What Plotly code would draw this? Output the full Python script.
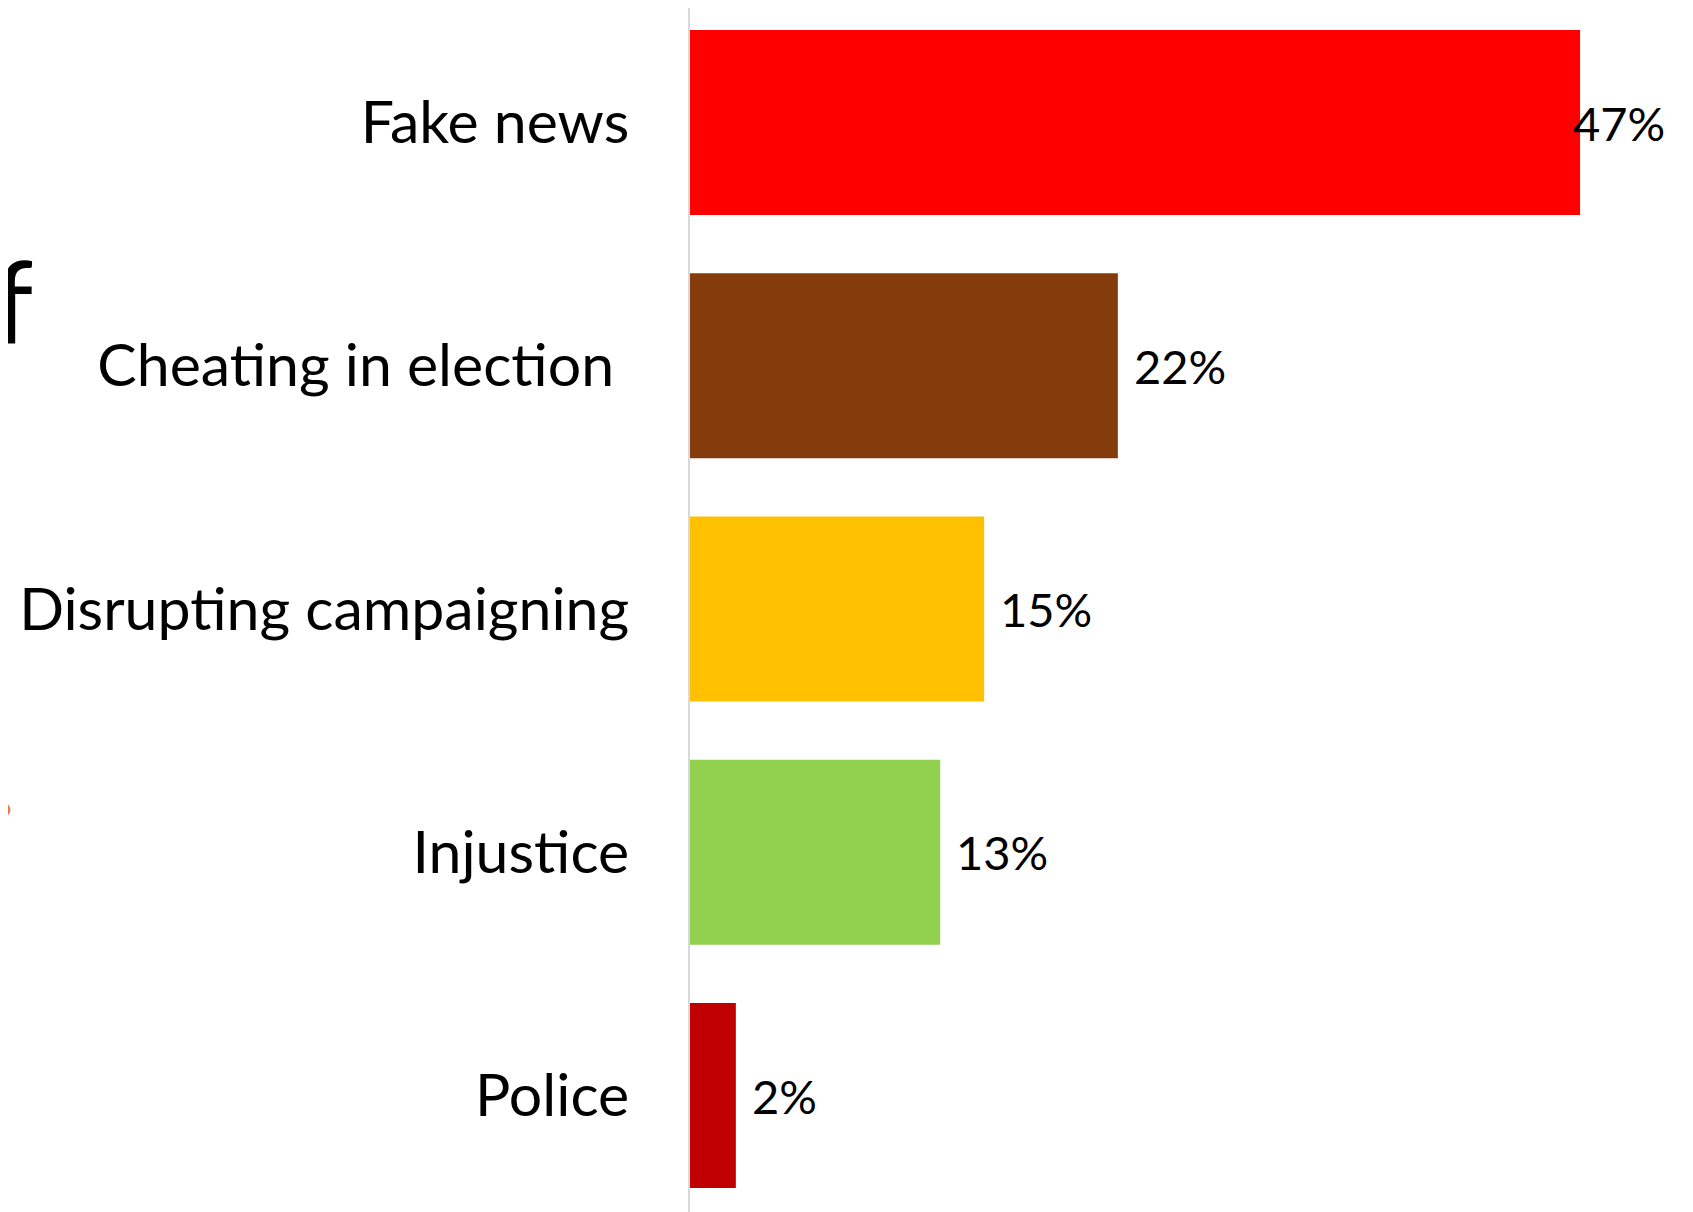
import plotly.graph_objects as go

categories = ["Fake news", "Cheating in election\u00a0", "Disrupting campaigning", "Injustice", "Police"]
values = [46.6, 22.4, 15.4, 13.1, 2.4]
labels = ["47%", "22%", "15%", "13%", "2%"]
colors = ["#FF0000", "#843C0C", "#FFC000", "#92D050", "#C00000"]
label_shift = [-9, 14, 14, 14, 14]

OFF = 8                      # page body margin
W, H = 1693 - OFF, 1212 - OFF
ML = 690 - OFF               # plot left edge in figure px
PW = W - ML
PITCH = 243.25               # px per category
TOP_CENTER = 122.5 - OFF     # centre of first bar in figure px
FONT = "Lato"

y_top = -TOP_CENTER / PITCH
y_bot = y_top + H / PITCH

fig = go.Figure()
fig.add_trace(go.Bar(
    y=categories, x=values, orientation="h",
    marker=dict(color=colors, line=dict(width=0)),
    hoverinfo="skip",
))

for c, v, t, s in zip(categories, values, labels, label_shift):
    fig.add_annotation(x=v, y=c, xref="x", yref="y", text=t, showarrow=False,
                       xanchor="left", yanchor="middle", xshift=s,
                       font=dict(family=FONT, size=47, color="#000000"))

def px_x(p):
    return (p - ML) / PW

def px_y(p):
    return 1 - p / H

# clipped fragments at the left edge (parts of neighbouring content)
fig.add_annotation(xref="paper", yref="paper", x=px_x(-17), y=px_y(362), text="f",
                   showarrow=False, xanchor="left", yanchor="bottom",
                   font=dict(family=FONT, size=115, color="#000000"))
fig.add_annotation(xref="paper", yref="paper", x=px_x(-6), y=px_y(799.5), text="\u25cf",
                   showarrow=False, xanchor="center", yanchor="middle",
                   font=dict(family="DejaVu Sans", size=20, color="#ED7D31"))

fig.update_layout(
    template="none",
    width=W, height=H,
    margin=dict(l=ML, r=0, t=0, b=0, pad=0, autoexpand=False),
    paper_bgcolor="white", plot_bgcolor="white",
    bargap=0.2395,
    showlegend=False,
    xaxis=dict(range=[0, PW / 19.1], showgrid=False, zeroline=False, showticklabels=False,
               showline=False, fixedrange=True, automargin=False),
    yaxis=dict(range=[y_bot, y_top], showgrid=False, zeroline=False,
               showline=True, linecolor="#D9D9D9", linewidth=2, automargin=False,
               ticks="", ticklabelstandoff=47,
               tickfont=dict(family=FONT, size=59, color="#000000")),
)

fig.write_html("out.html")
